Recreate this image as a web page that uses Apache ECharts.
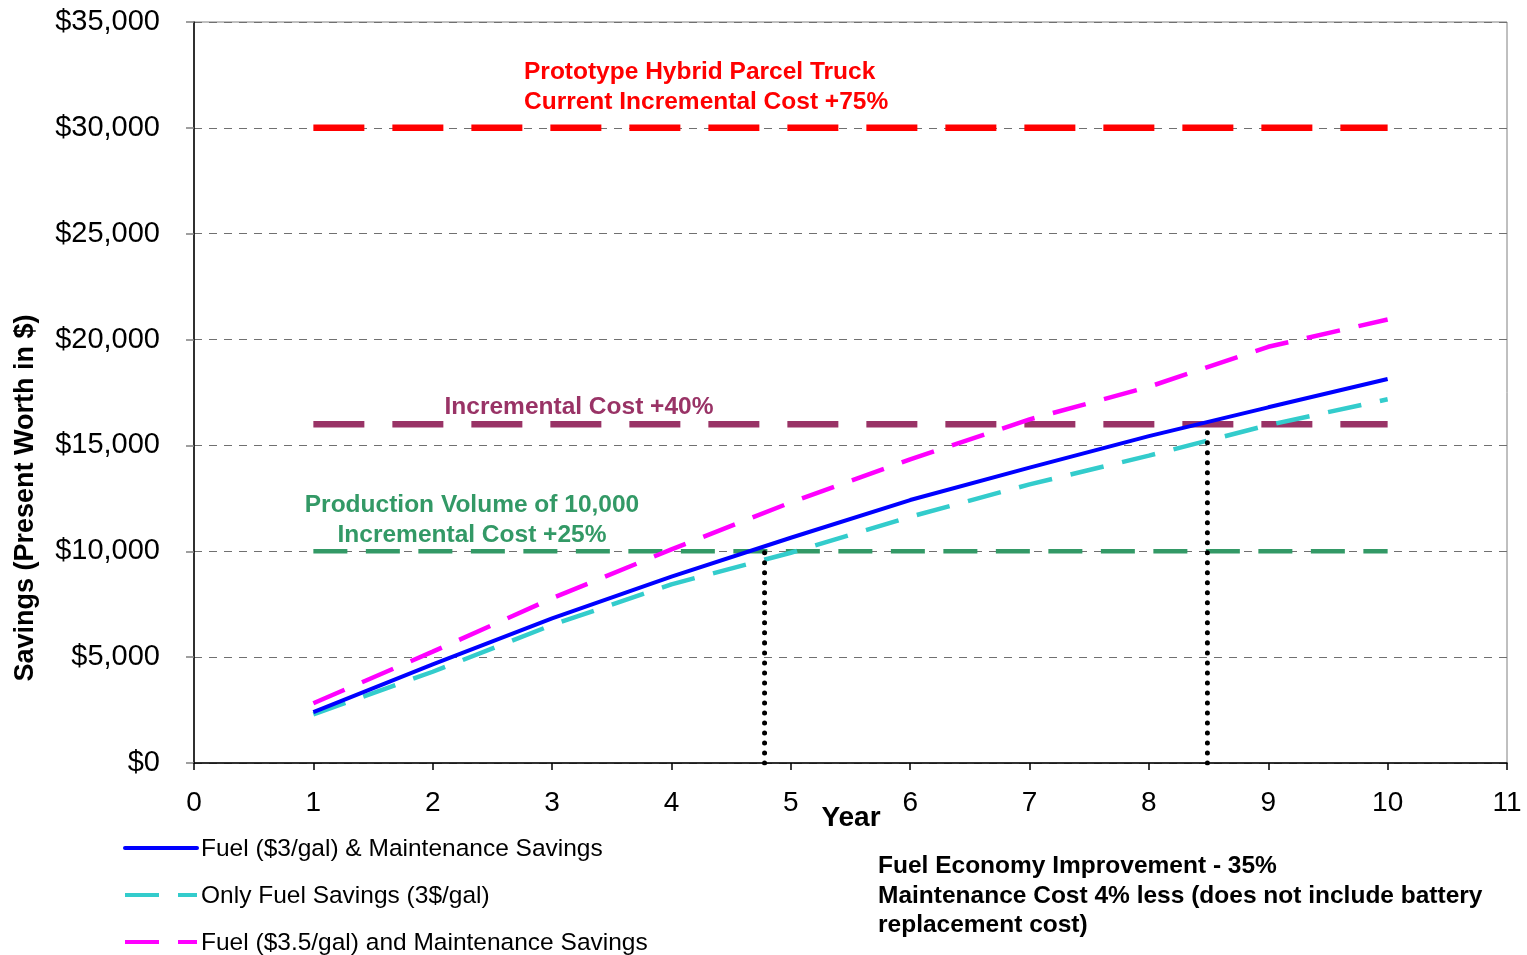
<!DOCTYPE html>
<html>
<head>
<meta charset="utf-8">
<script src="https://cdn.jsdelivr.net/npm/echarts@6/dist/echarts.min.js"></script>
<style>
  html, body { margin: 0; padding: 0; background: #ffffff; }
  #chart { width: 1527px; height: 955px; }
</style>
</head>
<body>
<div id="chart"></div>
<script>
// Years of operation
const years = [1, 2, 3, 4, 5, 6, 7, 8, 9, 10];

// Cumulative savings (present worth, $)
const fuelMaint3 = [2400, 4660, 6830, 8800, 10640, 12420, 13950, 15440, 16800, 18140];
const fuelOnly3 = [2300, 4310, 6520, 8440, 9930, 11630, 13160, 14520, 15960, 17180];
const fuelMaint35 = [2820, 5260, 7780, 10090, 12310, 14340, 16230, 17770, 19660, 20950];

// Incremental cost levels ($)
const costPrototype = 30000;   // +75%
const cost40 = 16000;          // +40%
const cost25 = 10000;          // +25%, production volume 10,000

// Payback markers: [year, savings]
const paybackA = [[4.78, 0], [4.78, 10000]];
const paybackB = [[8.49, 0], [8.49, 16000]];

const seriesNames = [
  'Fuel ($3/gal) & Maintenance Savings',
  'Only Fuel Savings (3$/gal)',
  'Fuel ($3.5/gal) and Maintenance Savings'
];

const FONT = '"Liberation Sans", Arial, sans-serif';

const BLUE = '#0000FF', CYAN = '#33CCCC', MAGENTA = '#FF00FF';
const DASH = [34, 19];

function pairs(vals) { return years.map((y, i) => [y, vals[i]]); }
function level(v) { return [[years[0], v], [years[years.length - 1], v]]; }

// Legend block under the plot: a line sample followed by the series name
const legendRows = [
  { name: seriesNames[0], color: BLUE, dash: null, y: 848 },
  { name: seriesNames[1], color: CYAN, dash: DASH, y: 895 },
  { name: seriesNames[2], color: MAGENTA, dash: DASH, y: 942 }
];
const legendGraphics = [];
legendRows.forEach(r => {
  legendGraphics.push({
    type: 'line', silent: true,
    shape: { x1: 125, y1: r.y, x2: 197, y2: r.y },
    style: { stroke: r.color, lineWidth: 4, lineDash: r.dash, lineCap: r.dash ? 'butt' : 'round' }
  });
  legendGraphics.push({
    type: 'text', x: 201, y: r.y + 1, silent: true,
    style: {
      text: r.name, font: '24.5px ' + FONT, fill: '#000',
      textAlign: 'left', textVerticalAlign: 'middle'
    }
  });
});

const chart = echarts.init(document.getElementById('chart'));

chart.setOption({
  animation: false,
  backgroundColor: '#ffffff',
  grid: {
    left: 194, right: 20, top: 22, bottom: 192,
    show: true, borderColor: '#808080', borderWidth: 1
  },
  xAxis: {
    type: 'value', min: 0, max: 11, interval: 1,
    axisLine: { show: true, lineStyle: { color: '#000', width: 1.5 } },
    axisTick: { show: true, length: 7, lineStyle: { color: '#000', width: 1.5 } },
    axisLabel: { fontFamily: FONT, fontSize: 28, color: '#000', margin: 26 },
    splitLine: { show: false }
  },
  yAxis: {
    type: 'value', min: 0, max: 35000, interval: 5000,
    axisLine: { show: true, lineStyle: { color: '#000', width: 1.5 } },
    axisTick: { show: true, length: 8, lineStyle: { color: '#808080', width: 1.5 } },
    axisLabel: {
      fontFamily: FONT, fontSize: 29, color: '#000', margin: 34,
      formatter: v => '$' + v.toLocaleString('en-US')
    },
    splitLine: { show: true, lineStyle: { color: '#707070', width: 1.2, type: [8, 7] } }
  },
  series: [
    {
      name: 'cost75', type: 'line', data: level(costPrototype), symbol: 'none', silent: true, z: 2,
      lineStyle: { color: '#FF0000', width: 6.5, type: [51, 28] }
    },
    {
      name: 'cost40', type: 'line', data: level(cost40), symbol: 'none', silent: true, z: 2,
      lineStyle: { color: '#993366', width: 6.5, type: [51, 28] }
    },
    {
      name: 'cost25', type: 'line', data: level(cost25), symbol: 'none', silent: true, z: 2,
      lineStyle: { color: '#339966', width: 4.5, type: [34, 18.5] }
    },
    {
      name: seriesNames[0], type: 'line', data: pairs(fuelMaint3), symbol: 'none', z: 4,
      color: BLUE,
      lineStyle: { color: BLUE, width: 4 }
    },
    {
      name: seriesNames[1], type: 'line', data: pairs(fuelOnly3), symbol: 'none', z: 3,
      color: CYAN,
      lineStyle: { color: CYAN, width: 4.5, type: DASH }
    },
    {
      name: seriesNames[2], type: 'line', data: pairs(fuelMaint35), symbol: 'none', z: 3,
      color: MAGENTA,
      lineStyle: { color: MAGENTA, width: 4.5, type: DASH }
    },
    {
      name: 'paybackA', type: 'line', data: paybackA, symbol: 'none', silent: true, z: 5,
      lineStyle: { color: '#000', width: 5, type: [0.01, 10], cap: 'round' }
    },
    {
      name: 'paybackB', type: 'line', data: paybackB, symbol: 'none', silent: true, z: 5,
      lineStyle: { color: '#000', width: 5, type: [0.01, 10], cap: 'round' }
    }
  ],
  graphic: [
    {
      type: 'text', x: 26, y: 498, rotation: Math.PI / 2,
      style: {
        text: 'Savings (Present Worth in $)', font: 'bold 27px ' + FONT, fill: '#000',
        textAlign: 'center', textVerticalAlign: 'middle'
      }
    },
    {
      type: 'text', x: 851, y: 818,
      style: {
        text: 'Year', font: 'bold 28px ' + FONT, fill: '#000',
        textAlign: 'center', textVerticalAlign: 'middle'
      }
    },
    {
      type: 'text', x: 524, y: 57,
      style: {
        text: 'Prototype Hybrid Parcel Truck\nCurrent Incremental Cost +75%',
        font: 'bold 24.5px ' + FONT, fill: '#FF0000', lineHeight: 30, textAlign: 'left'
      }
    },
    {
      type: 'text', x: 579, y: 407,
      style: {
        text: 'Incremental Cost +40%', font: 'bold 24.5px ' + FONT, fill: '#993366',
        textAlign: 'center', textVerticalAlign: 'middle'
      }
    },
    {
      type: 'text', x: 472, y: 490,
      style: {
        text: 'Production Volume of 10,000\nIncremental Cost +25%',
        font: 'bold 24.5px ' + FONT, fill: '#339966', lineHeight: 30, textAlign: 'center'
      }
    },
    {
      type: 'text', x: 878, y: 851.5,
      style: {
        text: 'Fuel Economy Improvement - 35%\nMaintenance Cost 4% less (does not include battery\nreplacement cost)',
        font: 'bold 24.5px ' + FONT, fill: '#000', lineHeight: 29.5, textAlign: 'left'
      }
    }
  ].concat(legendGraphics)
});
</script>
</body>
</html>
